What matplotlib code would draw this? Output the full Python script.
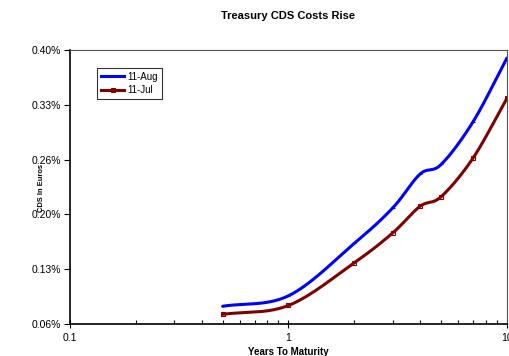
import numpy as np
import matplotlib.pyplot as plt
from matplotlib.ticker import FixedLocator, FuncFormatter, LogLocator, NullFormatter

plt.rcParams['font.family'] = ['Liberation Sans', 'DejaVu Sans']

# years to maturity and CDS cost (percent)
maturity = [0.5, 1, 2, 3, 4, 5, 7, 10]
aug_11 = [0.082, 0.095, 0.160, 0.204, 0.246, 0.258, 0.311, 0.390]
jul_11 = [0.072, 0.083, 0.136, 0.173, 0.206, 0.218, 0.266, 0.340]

y_ticks = [0.06, 0.128, 0.196, 0.264, 0.332, 0.40]


def smooth(xs, ys, n=30):
    # Catmull-Rom curve through the points, worked out in screen-like units
    sx, sy = 218.5, 806.0
    px = np.log10(xs) * sx
    py = np.array(ys) * sy
    px = np.concatenate([[2 * px[0] - px[1]], px, [2 * px[-1] - px[-2]]])
    py = np.concatenate([[2 * py[0] - py[1]], py, [2 * py[-1] - py[-2]]])
    out_x, out_y = [], []
    for i in range(1, len(px) - 2):
        t = np.linspace(0, 1, n, endpoint=False)
        for p, out in ((px, out_x), (py, out_y)):
            p0, p1, p2, p3 = p[i - 1], p[i], p[i + 1], p[i + 2]
            out.extend(0.5 * (2 * p1 + (-p0 + p2) * t
                              + (2 * p0 - 5 * p1 + 4 * p2 - p3) * t ** 2
                              + (-p0 + 3 * p1 - 3 * p2 + p3) * t ** 3))
    out_x.append(px[-2])
    out_y.append(py[-2])
    return 10 ** (np.array(out_x) / sx), np.array(out_y) / sy


fig = plt.figure(figsize=(5.1, 3.56), dpi=100)
ax = fig.add_axes([0.1373, 0.0899, 0.8567, 0.7697])

for vals, color, marker, label in [(aug_11, '#0000ff', '_', '11-Aug'),
                                    (jul_11, '#800000', 's', '11-Jul')]:
    cx, cy = smooth(maturity, vals)
    ax.plot(cx, cy, color=color, lw=2.2, solid_capstyle='round')
    ax.plot(maturity, vals, ls='none', marker=marker, ms=3, mew=0.8,
            mfc='none' if marker == 's' else color, mec=color)
    ax.plot([], [], color=color, lw=2.2, marker=marker, ms=3, mew=0.8,
            mfc='none' if marker == 's' else color, mec=color, label=label)

ax.set_xscale('log')
ax.set_xlim(0.1, 10)
ax.set_ylim(0.06, 0.40)
ax.xaxis.set_major_locator(FixedLocator([0.1, 1, 10]))
ax.xaxis.set_major_formatter(FuncFormatter(lambda v, p: '%g' % v))
ax.xaxis.set_minor_locator(LogLocator(base=10, subs=np.arange(2, 10)))
ax.xaxis.set_minor_formatter(NullFormatter())
ax.yaxis.set_major_locator(FixedLocator(y_ticks))
ax.yaxis.set_major_formatter(FuncFormatter(lambda v, p: '%.2f%%' % v))

ax.tick_params(axis='x', which='major', direction='inout', length=6, width=0.8,
               labelsize=7.5, pad=3.5)
ax.tick_params(axis='x', which='minor', direction='in', length=3, width=0.8)
ax.tick_params(axis='y', direction='out', length=4, width=0.8, labelsize=7.5,
               pad=2.5)

for side in ['top', 'right']:
    ax.spines[side].set_linewidth(0.8)
    ax.spines[side].set_color('#555555')
for side in ['left', 'bottom']:
    ax.spines[side].set_linewidth(1.2)

ax.set_title('Treasury CDS Costs Rise', fontsize=8, fontweight='bold', pad=22)
ax.set_xlabel('Years To Maturity', fontsize=7, fontweight='bold', labelpad=3)
ax.set_ylabel('CDS In Euros', fontsize=5.4, fontweight='bold')
ax.yaxis.set_label_coords(-0.057, 0.497)

leg = ax.legend(loc='upper left', bbox_to_anchor=(0.062, 0.935), fontsize=7,
                frameon=True, fancybox=False, edgecolor='black', handlelength=2.4,
                handletextpad=0.3, borderpad=0.4, labelspacing=0.35,
                borderaxespad=0)
leg.get_frame().set_linewidth(0.8)

fig.savefig('out.png', dpi=100)
